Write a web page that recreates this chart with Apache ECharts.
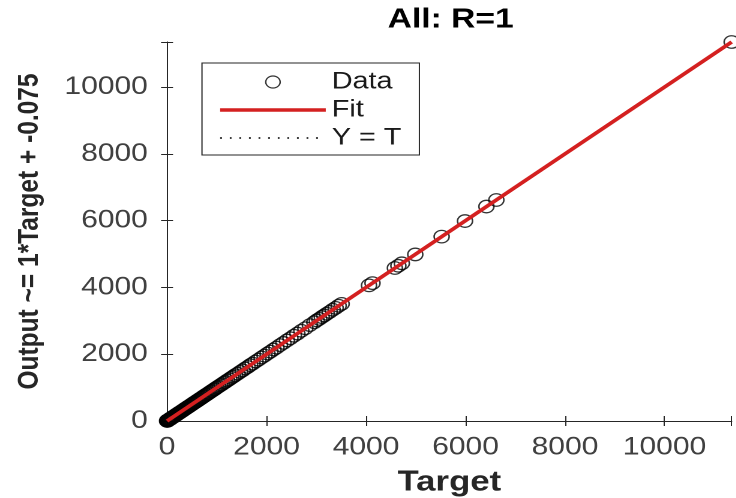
<!DOCTYPE html>
<html>
<head>
<meta charset="utf-8">
<script src="https://cdn.jsdelivr.net/npm/echarts@6/dist/echarts.min.js"></script>
<style>
  html, body { margin: 0; padding: 0; background: #fff; overflow: hidden; }
  #wrap { width: 736px; height: 498px; overflow: hidden; }
  #c { width: 613.33px; height: 498px; transform: scaleX(1.2); transform-origin: 0 0; }
</style>
</head>
<body>
<div id="wrap"><div id="c"></div></div>
<script>
// ---- data ----
const titleText = 'All: R=1';
const xName = 'Target';
const yName = 'Output ~= 1*Target + -0.075';
const axisMin = 0;
const axisMax = 11350;
const tickStep = 2000;

const targets = [0,5,10,15,20,28,35,42,50,58,
  66,75,84,93,102,112,122,133,144,155,
  167,179,191,204,217,230,244,258,272,287,
  302,318,334,350,367,384,401,419,437,455,
  474,493,512,532,552,572,593,614,636,658,
  680,703,726,750,775,800,826,852,880,908,
  937,966,996,1030,1065,1100,1140,1175,1210,1250,
  1290,1330,1370,1420,1470,1520,1570,1620,1670,1720,
  1780,1840,1900,1960,2020,2080,2140,2200,2270,2340,
  2410,2480,2550,2620,2700,2780,2870,2960,3010,3060,
  3110,3160,3210,3270,3330,3390,3450,3510,4060,4130,
  4580,4650,4720,4990,5520,5990,6420,6620,11350];

const outputs = [2,3,12,14,23,26,37,40,52,57,
  68,73,86,92,104,110,124,131,146,153,
  169,177,193,202,219,228,246,256,274,285,
  304,316,336,348,369,382,403,417,439,453,
  476,491,514,530,554,570,595,612,638,656,
  682,701,728,748,777,798,828,850,882,906,
  939,964,998,1028,1067,1098,1142,1173,1212,1248,
  1292,1328,1372,1418,1472,1518,1572,1618,1672,1718,
  1782,1838,1902,1958,2022,2078,2142,2198,2272,2338,
  2412,2478,2552,2618,2702,2778,2872,2958,3012,3058,
  3112,3158,3212,3268,3332,3388,3452,3508,4062,4128,
  4582,4648,4722,4988,5522,5988,6422,6618,11350];

const fitX = [0, 11350];
const fitY = [-0.075, 11349.9];
const identX = [0, 11350];
const identY = [0, 11350];

// ---- chart ----
const font = "'Liberation Sans', Arial, Helvetica, sans-serif";
const axisColor = '#262626';
const fitColor = '#d42020';
const chart = echarts.init(document.getElementById('c'), null, { renderer: 'canvas', devicePixelRatio: 2 });

const dataPairs = targets.map((t, i) => [t, outputs[i]]);
const fitPairs = fitX.map((x, i) => [x, fitY[i]]);
const identPairs = identX.map((x, i) => [x, identY[i]]);

const baseAxis = {
  type: 'value',
  min: axisMin,
  max: axisMax,
  interval: tickStep,
  splitLine: { show: false },
  axisLine: { show: true, lineStyle: { color: axisColor, width: 1 } },
  axisTick: { show: true, inside: true, length: 5, lineStyle: { color: axisColor } }
};
const labelFmt = v => (v % tickStep === 0 ? String(v) : '');

chart.setOption({
  animation: false,
  backgroundColor: '#fff',
  title: {
    text: titleText,
    left: 318,
    top: 1,
    textStyle: { fontFamily: font, fontSize: 28, fontWeight: 'bold', color: '#000' }
  },
  grid: { left: 139.2, right: 3.3, top: 42, bottom: 77, containLabel: false, outerBoundsMode: 'none' },
  legend: {
    orient: 'vertical',
    left: 168.3,
    top: 63,
    padding: [7, 15, 5, 13.4],
    itemWidth: 88,
    itemHeight: 12,
    itemGap: 4,
    borderColor: axisColor,
    borderWidth: 1,
    borderRadius: 0,
    backgroundColor: '#fff',
    selectedMode: false,
    textStyle: { fontFamily: font, fontSize: 24, color: '#1a1a1a' },
    data: [
      { name: 'Data', icon: 'circle', itemStyle: { color: 'rgba(0,0,0,0)', borderColor: '#000', borderWidth: 1.2 } },
      { name: 'Fit', itemStyle: { opacity: 0 }, lineStyle: { color: fitColor, width: 3.5 } },
      { name: 'Y = T', itemStyle: { opacity: 0 }, lineStyle: { color: '#000', width: 1.5, type: [1.5, 6.5] } }
    ]
  },
  xAxis: [
    Object.assign({}, baseAxis, {
      position: 'bottom',
      name: xName,
      nameLocation: 'middle',
      nameGap: 47,
      nameTextStyle: { fontFamily: font, fontSize: 29, fontWeight: 'bold', color: '#262626' },
      axisLabel: { margin: 14, fontFamily: font, fontSize: 25, color: '#404040', formatter: labelFmt }
    }),
    Object.assign({}, baseAxis, { position: 'top', axisLabel: { show: false } })
  ],
  yAxis: [
    Object.assign({}, baseAxis, {
      position: 'left',
      name: yName,
      nameLocation: 'middle',
      nameGap: 102,
      nameTextStyle: { fontFamily: font, fontSize: 24.5, fontWeight: 'bold', color: '#262626' },
      axisLabel: { margin: 16, fontFamily: font, fontSize: 25, color: '#404040', formatter: labelFmt }
    }),
    Object.assign({}, baseAxis, { position: 'right', axisLabel: { show: false } })
  ],
  series: [
    {
      name: 'Data',
      type: 'scatter',
      xAxisIndex: 0, yAxisIndex: 0,
      data: dataPairs,
      symbol: 'circle',
      symbolSize: 12.5,
      clip: false,
      itemStyle: { color: 'rgba(0,0,0,0)', borderColor: '#000', borderWidth: 1.3 },
      z: 2
    },
    {
      name: 'Y = T',
      type: 'line',
      xAxisIndex: 0, yAxisIndex: 0,
      data: identPairs,
      symbol: 'none',
      lineStyle: { color: '#000', width: 1.5, type: [1.5, 6.5] },
      itemStyle: { color: '#000' },
      z: 3
    },
    {
      name: 'Fit',
      type: 'line',
      xAxisIndex: 0, yAxisIndex: 0,
      data: fitPairs,
      symbol: 'none',
      lineStyle: { color: fitColor, width: 3.5 },
      itemStyle: { color: fitColor },
      z: 4
    }
  ]
});
</script>
</body>
</html>
